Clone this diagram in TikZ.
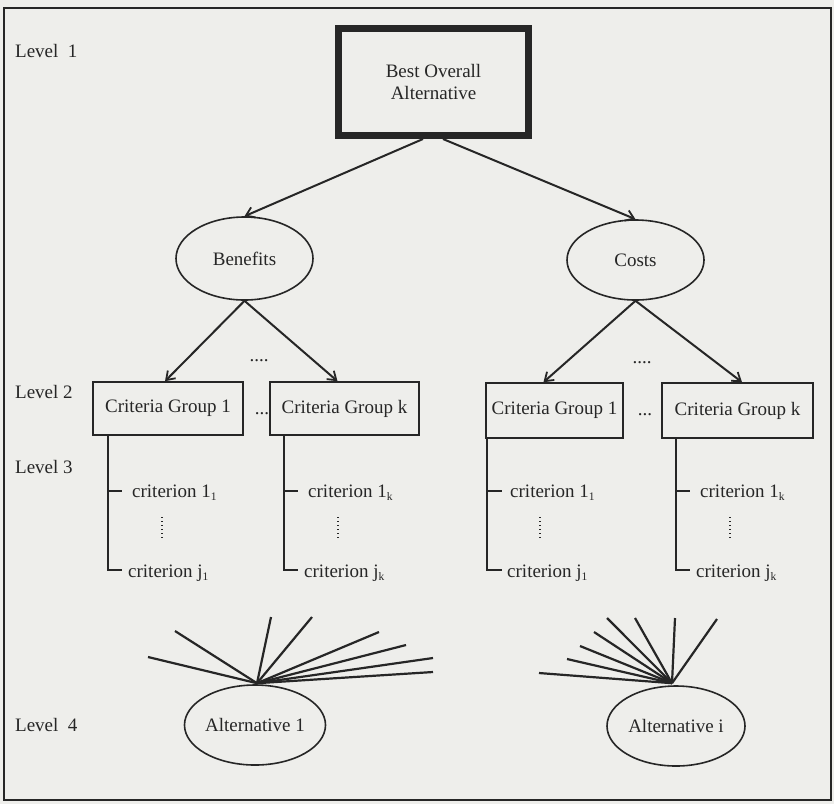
\documentclass[tikz,border=0pt]{standalone}
\usepackage{fontspec}
\setmainfont{Liberation Serif}
\usetikzlibrary{arrows.meta,shapes.geometric}
\definecolor{paper}{RGB}{238,238,235}
\definecolor{ink}{RGB}{38,38,38}
\newcommand{\lsub}[1]{\raisebox{-0.45ex}{\fontsize{11.5}{11.5}\selectfont #1}}
\begin{document}
\begin{tikzpicture}[x=1pt,y=-1pt,
  every node/.style={font=\fontsize{19}{22}\selectfont, text=ink},
  grp/.style={draw=ink, line width=1.6pt, minimum height=53pt, inner sep=0pt},
  ell/.style={draw=ink, ellipse, line width=1.6pt, inner sep=0pt},
  arr/.style={draw=ink, line width=2pt, -{Straight Barb[length=8pt,width=11pt,line width=1.8pt]}},
  tree/.style={draw=ink, line width=1.7pt},
  vdots/.style={draw=ink, line width=1.1pt, dash pattern=on 1.2pt off 2.8pt},
  fan/.style={draw=ink, line width=2.2pt},
  crit/.style={anchor=base west, inner sep=0pt},
  lvl/.style={anchor=west, inner sep=0pt},
  dotsnode/.style={inner sep=0pt}]

\fill[paper] (0,0) rectangle (834,804);
\useasboundingbox (0,0) rectangle (834,804);
\draw[ink, line width=1.8pt] (4,8) rectangle (831,800);

% level labels
\node[lvl] (l1) at (15,51) {Level\ \ 1};
\node[lvl] (l2) at (15,392) {Level 2};
\node[lvl] (l3) at (15,467) {Level 3};
\node[lvl] (l4) at (15,725) {Level\ \ 4};

% level 1
\node[draw=ink, line width=7pt, minimum width=190pt, minimum height=107pt,
      align=center, inner sep=0pt] (best) at (433.5,82) {Best Overall\\Alternative};

\node[ell, minimum width=137pt, minimum height=83pt] (ben) at (244.5,258.5) {Benefits};
\node[ell, minimum width=137pt, minimum height=80pt] (cost) at (635.5,260) {Costs};

\draw[arr] ([xshift=-10.5pt]best.south) -- (ben.north);
\draw[arr] ([xshift=9.5pt]best.south) -- (cost.north);

% level 2
\node[grp, minimum width=150pt] (g1) at (168,408.5) {Criteria Group 1};
\node[grp, minimum width=149pt] (gk) at (344.5,408.5) {Criteria Group k};
\node[grp, minimum width=137pt, minimum height=55pt] (h1) at (554.5,410.5) {Criteria Group 1};
\node[grp, minimum width=151pt, minimum height=55pt] (hk) at (737.5,410.5) {Criteria Group k};

\draw[arr] (ben.south) -- ([xshift=-3pt]g1.north);
\draw[arr] (ben.south) -- ([xshift=-7pt]gk.north);
\draw[arr] (cost.south) -- ([xshift=-11pt]h1.north);
\draw[arr] (cost.south) -- ([xshift=4.5pt]hk.north);

\node[dotsnode] (bd) at (259,361) {....};
\node[dotsnode] (cd) at (642,363) {....};
\node[dotsnode] (bd2) at (262,414) {...};
\node[dotsnode] (cd2) at (645,415) {...};

% level 3 trees
\foreach \g/\vx/\tx/\ta/\tb/\dx in {g1/108/122/132/128/162, gk/284/298/308/304/338,
                                   h1/487/502/510/507/540, hk/676/690/700/696/730}{
  \coordinate (\g v) at (\vx,570);
  \coordinate (\g t) at (\tx,491);
  \coordinate (\g c) at (\tx,570);
  \coordinate (\g da) at (\dx,517);
  \coordinate (\g db) at (\dx,540);
  \draw[tree] (\g.south -| \g v) -- (\g v) -- (\g c);
  \draw[tree] (\g v |- \g t) -- (\g t);
  \draw[vdots] (\g da) -- (\g db);
}
\node[crit] (c11) at (132,497) {criterion 1\lsub{1}};
\node[crit] (cj1) at (128,577) {criterion j\lsub{1}};
\node[crit] (c1k) at (308,497) {criterion 1\lsub{k}};
\node[crit] (cjk) at (304,577) {criterion j\lsub{k}};
\node[crit] (d11) at (510,497) {criterion 1\lsub{1}};
\node[crit] (dj1) at (507,577) {criterion j\lsub{1}};
\node[crit] (d1k) at (700,497) {criterion 1\lsub{k}};
\node[crit] (djk) at (696,577) {criterion j\lsub{k}};

% level 4
\node[ell, minimum width=134pt, minimum height=80pt] (alt1) at (255,725) {Alternative 1};
\node[ell, minimum width=138pt, minimum height=80pt] (alti) at (676,726) {Alternative i};
\coordinate (a1) at ([xshift=2pt,yshift=1pt]alt1.north);
\coordinate (ai) at ([xshift=-4pt,yshift=2pt]alti.north);

\foreach \xx/\yy [count=\i] in {148/657, 175/631, 271/617, 312/617, 379/632, 406/645, 433/658, 433/672}{
  \coordinate (fa\i) at (\xx,\yy);
  \draw[fan] (a1) -- (fa\i);
}
\foreach \xx/\yy [count=\i] in {539/673, 567/659, 580/646, 594/632, 607/618, 635/618, 675/618, 717/619}{
  \coordinate (fi\i) at (\xx,\yy);
  \draw[fan] (ai) -- (fi\i);
}
\end{tikzpicture}
\end{document}
